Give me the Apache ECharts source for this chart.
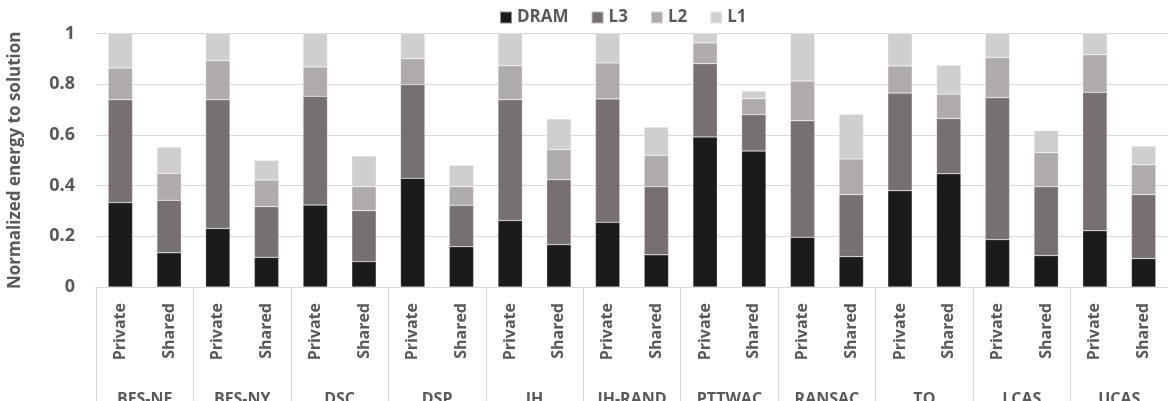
<!DOCTYPE html>
<html>
<head>
<meta charset="utf-8">
<script src="https://cdn.jsdelivr.net/npm/echarts@6/dist/echarts.min.js"></script>
<style>
    html, body { margin: 0; padding: 0; background: #fff; }
    #chart { width: 1168px; height: 401px; }
</style>
</head>
<body>
<div id="chart"></div>
<script>
    // benchmarks (outer axis) and the two configs per benchmark (inner axis)
    var benchmarks = ['BFS-NE', 'BFS-NY', 'DSC', 'DSP', 'IH', 'IH-RAND', 'PTTWAC', 'RANSAC', 'TO', 'LCAS', 'UCAS'];
    var configs = ['Private', 'Shared'];

    // one value per bar: Private, Shared, Private, Shared ...
    var dram = [0.333, 0.135, 0.231, 0.117, 0.323, 0.100, 0.429, 0.159, 0.262, 0.167, 0.255,
                0.127, 0.592, 0.536, 0.196, 0.120, 0.380, 0.447, 0.187, 0.124, 0.222, 0.112];
    var l3 = [0.406, 0.207, 0.508, 0.200, 0.429, 0.201, 0.369, 0.163, 0.477, 0.256, 0.487,
              0.269, 0.289, 0.144, 0.460, 0.244, 0.385, 0.218, 0.560, 0.272, 0.546, 0.252];
    var l2 = [0.125, 0.106, 0.154, 0.105, 0.116, 0.095, 0.103, 0.074, 0.134, 0.119, 0.142,
              0.123, 0.082, 0.063, 0.157, 0.141, 0.107, 0.096, 0.158, 0.134, 0.148, 0.118];
    var l1 = [0.136, 0.104, 0.107, 0.078, 0.132, 0.121, 0.099, 0.084, 0.127, 0.121, 0.116,
              0.112, 0.037, 0.030, 0.187, 0.176, 0.128, 0.114, 0.095, 0.087, 0.084, 0.074];

    var yTicks = [0, 0.2, 0.4, 0.6, 0.8, 1];

    var innerCats = [];
    benchmarks.forEach(function (b) {
        configs.forEach(function (c) { innerCats.push(c); });
    });

    var font = '"Open Sans", sans-serif';
    var txt = '#595959';

    function bar(name, data, color) {
        return {
            name: name,
            type: 'bar',
            stack: 'e',
            barWidth: '50%',
            data: data,
            itemStyle: { color: color, borderColor: 'rgba(255,255,255,0.5)', borderWidth: 0.5 }
        };
    }

    var chart = echarts.init(document.getElementById('chart'));
    chart.setOption({
        animation: false,
        textStyle: { fontFamily: font },
        legend: {
            top: 4,
            left: 494,
            itemWidth: 12,
            itemHeight: 12,
            itemGap: 22,
            icon: 'rect',
            textStyle: { fontSize: 17, fontWeight: 'bold', color: txt, fontFamily: font },
            data: ['DRAM', 'L3', 'L2', 'L1']
        },
        grid: { left: 96, right: 0, top: 33.5, bottom: 114, outerBoundsMode: 'none', containLabel: false },
        xAxis: [{
            type: 'category',
            data: innerCats,
            axisLine: { lineStyle: { color: '#d9d9d9' } },
            axisTick: { show: false },
            axisLabel: {
                interval: 0,
                rotate: 90,
                margin: 16,
                fontSize: 16,
                fontWeight: 'bold',
                color: txt,
                fontFamily: font
            }
        }, {
            type: 'category',
            position: 'bottom',
            data: benchmarks,
            axisLine: { show: false },
            axisTick: { show: true, interval: 0, length: 116, lineStyle: { color: '#d9d9d9' } },
            axisLabel: {
                interval: 0,
                margin: 104,
                fontSize: 16,
                fontWeight: 'bold',
                color: txt,
                fontFamily: font
            }
        }],
        yAxis: {
            type: 'value',
            min: yTicks[0],
            max: yTicks[yTicks.length - 1],
            interval: 0.2,
            name: 'Normalized energy to solution',
            nameLocation: 'middle',
            nameGap: 72,
            nameTextStyle: { fontSize: 17, fontWeight: 'bold', color: txt, fontFamily: font },
            axisLine: { show: false },
            axisTick: { show: false },
            splitLine: { lineStyle: { color: '#d9d9d9' } },
            axisLabel: { margin: 21, fontSize: 18, fontWeight: 'bold', color: txt, fontFamily: font }
        },
        series: [
            bar('DRAM', dram, '#1b1b1b'),
            bar('L3', l3, '#767170'),
            bar('L2', l2, '#afabab'),
            bar('L1', l1, '#d0cece')
        ]
    });
</script>
</body>
</html>
